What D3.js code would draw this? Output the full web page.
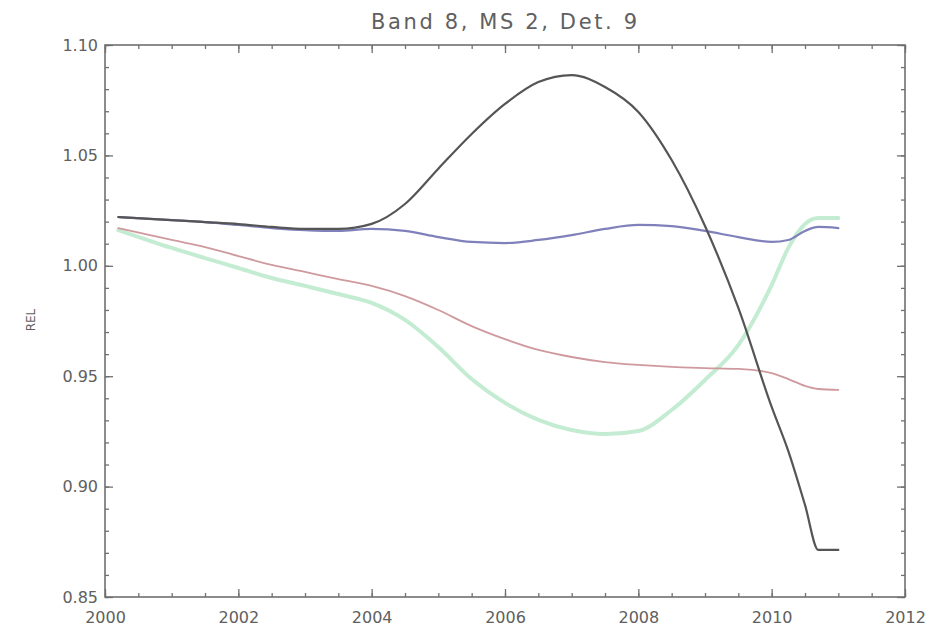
<!DOCTYPE html>
<html>
<head>
<meta charset="utf-8">
<script src="https://cdn.jsdelivr.net/npm/d3@7"></script>
<style>
  html, body { margin: 0; padding: 0; background: #fff; }
  svg { display: block; }
  text { font-family: "DejaVu Sans", sans-serif; }
</style>
</head>
<body>
<svg id="chart" width="943" height="632"></svg>
<script>
// ---- data ----
const title = "Band 8, MS 2, Det. 9";
const yTitle = "REL";
const years = [2000.2, 2001, 2001.5, 2002, 2002.5, 2003, 2003.5, 2004, 2004.5, 2005, 2005.5, 2006,
               2006.5, 2007, 2007.5, 2008, 2008.5, 2009, 2009.5, 2010, 2010.25, 2010.5, 2010.7, 2011];
const blackSeries = [1.0221, 1.0207, 1.0198, 1.0189, 1.0176, 1.0167, 1.0167, 1.0190, 1.0280, 1.0440, 1.0597, 1.0733,
                     1.0832, 1.0864, 1.0810, 1.0697, 1.0479, 1.0180, 0.9809, 0.9361, 0.9161, 0.8917, 0.8713, 0.8713];
const blueSeries  = [1.0221, 1.0207, 1.0198, 1.0185, 1.0171, 1.0162, 1.0158, 1.0167, 1.0158, 1.0130, 1.0108, 1.0103,
                     1.0117, 1.0139, 1.0167, 1.0185, 1.0180, 1.0158, 1.0130, 1.0108, 1.0117, 1.0158, 1.0176, 1.0171];
const redSeries   = [1.0171, 1.0117, 1.0085, 1.0044, 1.0004, 0.9972, 0.9940, 0.9909, 0.9863, 0.9800, 0.9727, 0.9668,
                     0.9619, 0.9587, 0.9564, 0.9551, 0.9542, 0.9537, 0.9533, 0.9514, 0.9487, 0.9456, 0.9442, 0.9438];
const greenSeries = [1.0162, 1.0081, 1.0035, 0.9990, 0.9945, 0.9909, 0.9872, 0.9832, 0.9755, 0.9632, 0.9487, 0.9379,
                     0.9302, 0.9256, 0.9238, 0.9252, 0.9347, 0.9483, 0.9641, 0.9913, 1.0081, 1.0189, 1.0216, 1.0216];
const xTicks = [2000, 2002, 2004, 2006, 2008, 2010, 2012];
const xMinorTicks = d3.range(2000, 2012.001, 0.5);
const yTicks = [0.85, 0.90, 0.95, 1.00, 1.05, 1.10];
const yMinorTicks = d3.range(0.85, 1.1001, 0.01);

// ---- layout ----
const svg = d3.select("#chart");
const L = 105, R = 905, T = 45, B = 597;
const x = d3.scaleLinear().domain([2000, 2012]).range([L, R]);
const y = d3.scaleLinear().domain([0.85, 1.10]).range([B, T]);

const axisColor = "#707070";
const textColor = "#606060";

function styleAxis(g) {
  g.select(".domain").remove();
  g.selectAll(".tick line").attr("stroke", axisColor).attr("stroke-width", 1.3);
  g.selectAll(".tick text").attr("fill", textColor).attr("font-size", 16);
}

// minor ticks (all four sides)
svg.append("g").attr("transform", `translate(0,${B})`)
  .call(d3.axisBottom(x).tickValues(xMinorTicks).tickSize(-4).tickFormat(""))
  .call(styleAxis);
svg.append("g").attr("transform", `translate(0,${T})`)
  .call(d3.axisTop(x).tickValues(xMinorTicks).tickSize(-4).tickFormat(""))
  .call(styleAxis);
svg.append("g").attr("transform", `translate(${L},0)`)
  .call(d3.axisLeft(y).tickValues(yMinorTicks).tickSize(-4).tickFormat(""))
  .call(styleAxis);
svg.append("g").attr("transform", `translate(${R},0)`)
  .call(d3.axisRight(y).tickValues(yMinorTicks).tickSize(-4).tickFormat(""))
  .call(styleAxis);

// major ticks with labels
svg.append("g").attr("transform", `translate(0,${B})`)
  .call(d3.axisBottom(x).tickValues(xTicks).tickSize(-8).tickPadding(15).tickFormat(d3.format("d")))
  .call(styleAxis);
svg.append("g").attr("transform", `translate(0,${T})`)
  .call(d3.axisTop(x).tickValues(xTicks).tickSize(-8).tickFormat(""))
  .call(styleAxis);
svg.append("g").attr("transform", `translate(${L},0)`)
  .call(d3.axisLeft(y).tickValues(yTicks).tickSize(-8).tickPadding(7).tickFormat(d3.format(".2f")))
  .call(styleAxis);
svg.append("g").attr("transform", `translate(${R},0)`)
  .call(d3.axisRight(y).tickValues(yTicks).tickSize(-8).tickFormat(""))
  .call(styleAxis);

// frame
svg.append("rect")
  .attr("x", L).attr("y", T).attr("width", R - L).attr("height", B - T)
  .attr("fill", "none").attr("stroke", axisColor).attr("stroke-width", 1.6);

// series
const line = d3.line()
  .x((d, i) => x(years[i]))
  .y(d => y(d))
  .curve(d3.curveMonotoneX);

const series = [
  { values: greenSeries, color: "#c4ecd2", width: 4 },
  { values: redSeries,   color: "#cf9a9e", width: 1.8 },
  { values: blueSeries,  color: "#8080bb", width: 2.2 },
  { values: blackSeries, color: "#555555", width: 2.2 }
];
svg.append("g").selectAll("path").data(series).join("path")
  .attr("d", s => line(s.values))
  .attr("fill", "none")
  .attr("stroke", s => s.color)
  .attr("stroke-width", s => s.width)
  .attr("stroke-linejoin", "round")
  .attr("stroke-linecap", "round");

// title
svg.append("text")
  .attr("x", 504).attr("y", 29)
  .attr("text-anchor", "middle")
  .attr("font-size", 21)
  .attr("fill", textColor)
  .attr("textLength", 266).attr("lengthAdjust", "spacing")
  .text(title);

// y title
svg.append("text")
  .attr("transform", `translate(35,320) rotate(-90)`)
  .attr("text-anchor", "middle")
  .attr("font-size", 12)
  .attr("fill", textColor)
  .text(yTitle);
</script>
</body>
</html>
